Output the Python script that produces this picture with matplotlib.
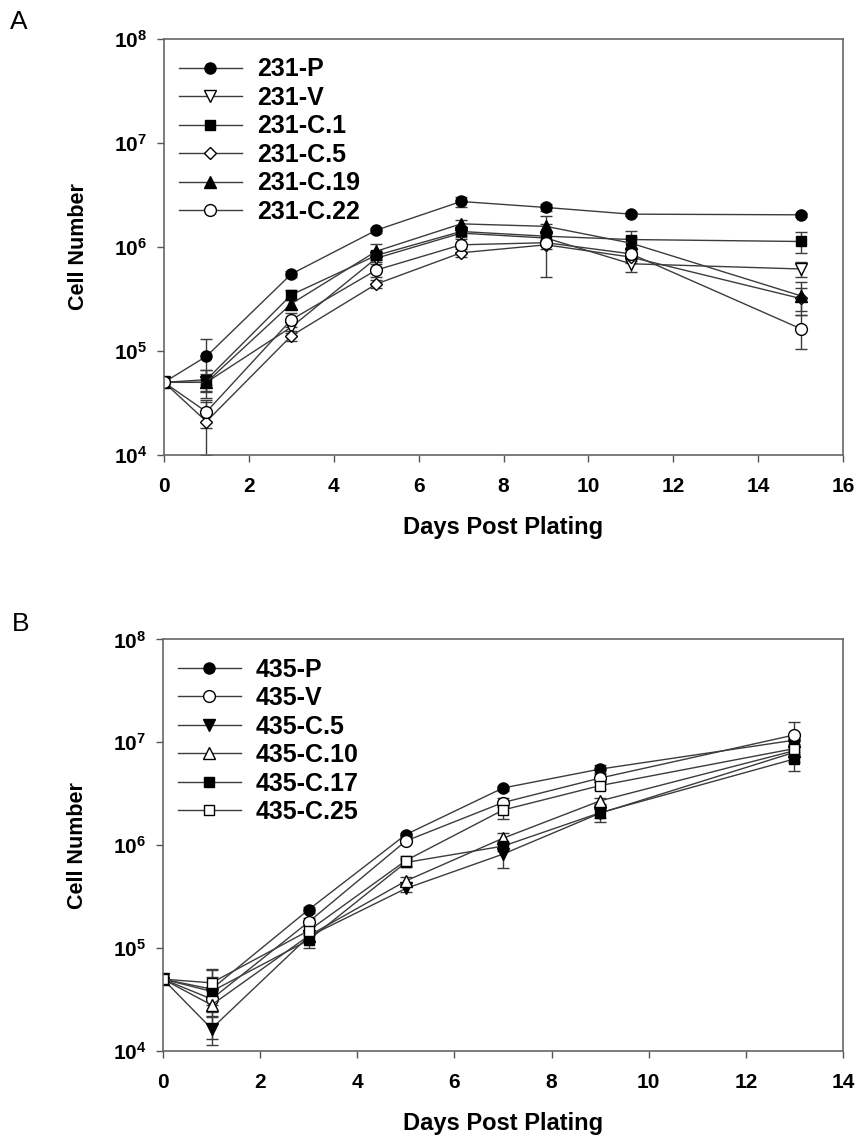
import matplotlib
matplotlib.use("Agg")
import matplotlib.pyplot as plt
from matplotlib.ticker import FixedLocator, FixedFormatter

plt.rcParams["font.family"] = ["Liberation Sans", "DejaVu Sans"]
plt.rcParams["font.weight"] = "bold"
plt.rcParams["mathtext.fontset"] = "custom"
plt.rcParams["mathtext.rm"] = "Liberation Sans:bold"
plt.rcParams["mathtext.bf"] = "Liberation Sans:bold"

# ---- panel A: MDA-MB-231 lines ----
days_a = [0, 1, 3, 5, 7, 9, 11, 15]
labels_a = ["231-P", "231-V", "231-C.1", "231-C.5", "231-C.19", "231-C.22"]
p231 = [5e4, 8.9e4, 5.5e5, 1.45e6, 2.74e6, 2.4e6, 2.07e6, 2.04e6]
v231 = [5e4, 5.0e4, 1.7e5, 7.8e5, 1.36e6, 1.22e6, 6.9e5, 6.15e5]
c1_231 = [5e4, 5.3e4, 3.47e5, 8.3e5, 1.41e6, 1.27e6, 1.18e6, 1.13e6]
c5_231 = [5e4, 2.1e4, 1.4e5, 4.4e5, 8.8e5, 1.05e6, 8.0e5, 3.2e5]
c19_231 = [5e4, 5.0e4, 2.85e5, 9.1e5, 1.67e6, 1.58e6, 1.09e6, 3.4e5]
c22_231 = [5e4, 2.6e4, 2.0e5, 6.0e5, 1.05e6, 1.1e6, 8.6e5, 1.64e5]
err_p231 = [0, 4.2e4, 4e4, 8e4, 3e5, 2e5, 1e5, 1e5]
err_v231 = [0, 1.5e4, 2e4, 6e4, 1e5, 1.5e5, 1.2e5, 1e5]
err_c1_231 = [0, 1.2e4, 4e4, 8e4, 1e5, 1e5, 2.5e5, 2.5e5]
err_c5_231 = [0, 1.1e4, 1.5e4, 4e4, 8e4, 1e5, 1e5, 8e4]
err_c19_231 = [0, 1e4, 3e4, 1.5e5, 1.5e5, 4e5, 1.5e5, 1.2e5]
err_c22_231 = [0, 8e3, 3e4, 8e4, 1.5e5, 5.8e5, 1.2e5, 6e4]

# ---- panel B: MDA-MB-435 lines ----
days_b = [0, 1, 3, 5, 7, 9, 13]
labels_b = ["435-P", "435-V", "435-C.5", "435-C.10", "435-C.17", "435-C.25"]
p435 = [5e4, 4.0e4, 2.37e5, 1.27e6, 3.6e6, 5.5e6, 1.05e7]
v435 = [5e4, 3.2e4, 1.8e5, 1.1e6, 2.6e6, 4.5e6, 1.18e7]
c5_435 = [5e4, 1.65e4, 1.3e5, 3.8e5, 8.2e5, 2.05e6, 8.0e6]
c10_435 = [5e4, 2.8e4, 1.32e5, 4.5e5, 1.17e6, 2.7e6, 8.3e6]
c17_435 = [5e4, 3.8e4, 1.2e5, 6.8e5, 9.8e5, 2.07e6, 6.9e6]
c25_435 = [5e4, 4.6e4, 1.48e5, 7.1e5, 2.2e6, 3.8e6, 8.7e6]
err_p435 = [0, 1.2e4, 1.5e4, 6e4, 2e5, 5e5, 1.5e6]
err_v435 = [0, 8e3, 1.5e4, 6e4, 2.5e5, 4e5, 3.8e6]
err_c5_435 = [0, 5e3, 1.5e4, 3e4, 2.2e5, 2e5, 1.5e6]
err_c10_435 = [0, 6e3, 1.5e4, 4e4, 1.5e5, 2e5, 1e6]
err_c17_435 = [0, 2.5e4, 2e4, 6e4, 1e5, 4e5, 1.6e6]
err_c25_435 = [0, 1.5e4, 1.5e4, 8e4, 4e5, 3e5, 1e6]

yticks = [1e4, 1e5, 1e6, 1e7, 1e8]
ytick_labels = [r"$\mathbf{10^{4}}$", r"$\mathbf{10^{5}}$", r"$\mathbf{10^{6}}$",
                r"$\mathbf{10^{7}}$", r"$\mathbf{10^{8}}$"]

LINE = "#3c3c3c"


def draw_panel(ax, days, series, errs, labels, styles, xmax):
    for y, e, lab, (mk, fc, ms) in zip(series, errs, labels, styles):
        ax.errorbar(days, y, yerr=e, color=LINE, lw=1.0, marker=mk, ms=ms,
                    mfc=fc, mec="black", mew=1.0, ecolor=LINE, elinewidth=1.0,
                    capsize=4.5, capthick=1.0, label=lab)
    ax.set_yscale("log")
    ax.set_ylim(1e4, 1e8)
    ax.set_xlim(0, xmax)
    ax.set_xticks(range(0, xmax + 1, 2))
    ax.yaxis.set_major_locator(FixedLocator(yticks))
    ax.yaxis.set_major_formatter(FixedFormatter(ytick_labels))
    ax.yaxis.set_minor_locator(FixedLocator([]))
    ax.tick_params(direction="out", length=5, width=1, labelsize=15, color="#555555")
    ax.tick_params(axis="x", pad=11)
    ax.tick_params(axis="y", pad=7)
    for s in ax.spines.values():
        s.set_color("#666666")
        s.set_linewidth(1.2)
    ax.set_xlabel("Days Post Plating", fontsize=17, fontweight="bold", labelpad=14)
    ax.set_ylabel("Cell Number", fontsize=15.5, fontweight="bold", labelpad=18)
    handles, labs = ax.get_legend_handles_labels()
    handles = [h[0] for h in handles]
    ax.legend(handles, labs, loc="upper left", bbox_to_anchor=(0.015, 0.968),
              frameon=False, fontsize=18, handlelength=2.5, handletextpad=0.6,
              labelspacing=0.18, borderpad=0.2, borderaxespad=0)


fig = plt.figure(figsize=(8.61, 11.37), dpi=100)
ax_a = fig.add_axes([0.1905, 0.5998, 0.7886, 0.3659])
ax_b = fig.add_axes([0.1893, 0.0756, 0.7898, 0.3620])

styles_a = [("o", "black", 8), ("v", "white", 8.5), ("s", "black", 7.5),
            ("D", "white", 6.5), ("^", "black", 8), ("o", "white", 8.5)]
styles_b = [("o", "black", 8), ("o", "white", 8.5), ("v", "black", 8.5),
            ("^", "white", 8.5), ("s", "black", 7.5), ("s", "white", 7.5)]

draw_panel(ax_a, days_a,
           [p231, v231, c1_231, c5_231, c19_231, c22_231],
           [err_p231, err_v231, err_c1_231, err_c5_231, err_c19_231, err_c22_231],
           labels_a, styles_a, 16)
draw_panel(ax_b, days_b,
           [p435, v435, c5_435, c10_435, c17_435, c25_435],
           [err_p435, err_v435, err_c5_435, err_c10_435, err_c17_435, err_c25_435],
           labels_b, styles_b, 14)

fig.text(0.012, 0.991, "A", fontsize=19, fontweight="normal", ha="left", va="top")
fig.text(0.014, 0.4617, "B", fontsize=19, fontweight="normal", ha="left", va="top")

fig.savefig("out.png", dpi=100)
